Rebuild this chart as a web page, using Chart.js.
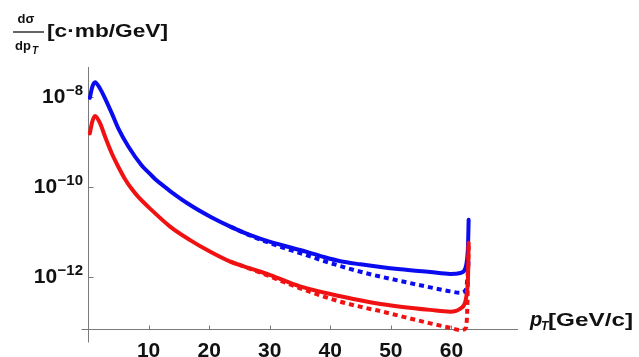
<!DOCTYPE html>
<html>
<head>
<meta charset="utf-8">
<script src="https://cdn.jsdelivr.net/npm/chart.js@4/dist/chart.umd.min.js"></script>
<style>
  html, body { margin: 0; padding: 0; background: #ffffff; }
  #wrap { width: 639px; height: 357px; position: relative; }
</style>
</head>
<body>
<div id="wrap"><canvas id="c" width="639" height="357"></canvas></div>
<script>
// ---- data (pT in GeV/c, dσ/dpT in c·mb/GeV) ----
const blueSolidX = [0.3, 0.7, 1.16, 1.98, 2.81, 3.92, 5.0, 6.66, 8.87, 10.25, 11.07, 12.7, 13.55, 16.86, 20.2, 23.5, 26.8, 30.1, 35.0, 38.3, 41.7, 45.0, 48.3, 51.6, 56.5, 59.8, 61.5, 62.3, 62.6, 62.75, 62.85];
const blueSolidY = [9.55e-9, 1.66e-8, 2.14e-8, 1.55e-8, 9.33e-9, 4.37e-9, 2.00e-9, 7.94e-10, 3.02e-10, 1.95e-10, 1.51e-10, 1.00e-10, 8.13e-11, 3.98e-11, 2.19e-11, 1.32e-11, 8.51e-12, 6.03e-12, 3.98e-12, 2.95e-12, 2.24e-12, 1.91e-12, 1.66e-12, 1.48e-12, 1.29e-12, 1.17e-12, 1.23e-12, 1.55e-12, 2.51e-12, 5.01e-12, 1.86e-11];

const blueDashX = [23.5, 26.8, 30.1, 35.0, 41.7, 46.6, 48.3, 51.6, 56.5, 59.8, 61.5, 62.3, 62.6, 62.85];
const blueDashY = [1.32e-11, 8.32e-12, 5.62e-12, 3.39e-12, 1.74e-12, 1.15e-12, 1.02e-12, 8.13e-13, 5.89e-13, 4.79e-13, 4.47e-13, 5.01e-13, 7.94e-13, 2.51e-12];

const redSolidX = [0.3, 0.7, 1.16, 1.98, 2.81, 3.92, 5.0, 6.1, 7.2, 8.3, 10.25, 13.55, 16.86, 20.2, 23.5, 26.8, 30.1, 35.0, 41.7, 46.6, 48.3, 51.6, 56.5, 59.8, 61.5, 62.3, 62.6, 62.75, 62.85];
const redSolidY = [1.55e-9, 2.82e-9, 3.80e-9, 2.63e-9, 1.32e-9, 5.62e-10, 2.82e-10, 1.51e-10, 9.12e-11, 6.03e-11, 3.31e-11, 1.32e-11, 6.61e-12, 3.63e-12, 2.19e-12, 1.55e-12, 1.10e-12, 6.17e-13, 3.72e-13, 2.75e-13, 2.51e-13, 2.19e-13, 1.86e-13, 1.70e-13, 2.00e-13, 2.82e-13, 5.01e-13, 1.00e-12, 5.75e-12];

const redDashX = [23.5, 26.8, 30.1, 35.0, 41.7, 46.6, 48.3, 51.6, 56.5, 59.8, 61.5, 62.3, 62.6, 62.85];
const redDashY = [2.19e-12, 1.51e-12, 1.02e-12, 5.62e-13, 2.82e-13, 1.95e-13, 1.74e-13, 1.35e-13, 9.33e-14, 7.41e-14, 6.61e-14, 7.08e-14, 1.58e-13, 5.01e-12];

// ---- axes / ticks ----
const xMin = 0, xMax = 71;
const yMin = 6.99e-14, yMax = 4.64e-8;
const xTickValues = [10, 20, 30, 40, 50, 60];
const xTickLabels = ['10', '20', '30', '40', '50', '60'];
const yTickValues = [1e-8, 1e-10, 1e-12];
const yTickBase = ['10', '10', '10'];
const yTickExp = ['\u22128', '\u221210', '\u221212'];

const FONT = '"Liberation Sans", Arial, sans-serif';
const BLUE = '#0b0bf0';
const RED = '#f01212';
const AXIS = '#7a7a7a';

function pts(xs, ys) { return xs.map((v, i) => ({ x: v, y: ys[i] })); }

function fitText(ctx, text, x, y, targetW) {
  const w = ctx.measureText(text).width;
  const s = targetW / w;
  ctx.save();
  ctx.translate(x, y);
  ctx.scale(s, 1);
  ctx.textAlign = 'left';
  ctx.fillText(text, 0, 0);
  ctx.restore();
}

const mmaAxes = {
  id: 'mmaAxes',
  beforeDatasetsDraw(chart) {
    const { ctx, chartArea, scales } = chart;
    const xs = scales.x, ys = scales.y;
    const x0 = Math.round(xs.getPixelForValue(0)) + 0.5;
    const yb = Math.round(chartArea.bottom) + 0.5;
    ctx.save();
    ctx.strokeStyle = AXIS;
    ctx.lineWidth = 1;
    ctx.beginPath();
    ctx.moveTo(x0, chartArea.top);
    ctx.lineTo(x0, yb + 13);
    ctx.moveTo(x0 - 7, yb);
    ctx.lineTo(chartArea.right, yb);
    xTickValues.forEach(v => {
      const px = Math.round(xs.getPixelForValue(v)) + 0.5;
      ctx.moveTo(px, yb);
      ctx.lineTo(px, yb - 4);
    });
    yTickValues.forEach(v => {
      const py = Math.round(ys.getPixelForValue(v)) + 0.5;
      ctx.moveTo(x0, py);
      ctx.lineTo(x0 + 5, py);
    });
    ctx.stroke();
    ctx.restore();
  },
  afterDraw(chart) {
    const { ctx, chartArea, scales } = chart;
    const xs = scales.x, ys = scales.y;
    ctx.save();
    ctx.fillStyle = '#111111';
    ctx.textBaseline = 'alphabetic';

    // y tick labels: 10 with superscript exponent
    yTickValues.forEach((v, i) => {
      const py = ys.getPixelForValue(v);
      const right = 83;
      ctx.font = 'bold 15px ' + FONT;
      const ew = ctx.measureText(yTickExp[i]).width;
      ctx.textAlign = 'left';
      ctx.fillText(yTickExp[i], right - ew, py - 2);
      ctx.font = 'bold 21px ' + FONT;
      ctx.textAlign = 'right';
      ctx.fillText(yTickBase[i], right - ew - 0.5, py + 6);
    });

    // x tick labels
    ctx.font = 'bold 21px ' + FONT;
    ctx.textAlign = 'center';
    xTickValues.forEach((v, i) => {
      const px = xs.getPixelForValue(v);
      ctx.fillText(xTickLabels[i], px, chartArea.bottom + 28);
    });

    // y-axis title: dσ/dp_T [c·mb/GeV]
    ctx.font = 'bold 13px ' + FONT;
    ctx.textAlign = 'center';
    ctx.fillText('d\u03c3', 26, 23);
    ctx.strokeStyle = '#111111';
    ctx.lineWidth = 1.3;
    ctx.beginPath();
    ctx.moveTo(13, 32);
    ctx.lineTo(44, 32);
    ctx.stroke();
    ctx.textAlign = 'left';
    ctx.fillText('dp', 15, 50);
    ctx.font = 'italic bold 10px ' + FONT;
    ctx.fillText('T', 32, 54);
    ctx.font = 'bold 19px ' + FONT;
    fitText(ctx, '[c\u00b7mb/GeV]', 47, 37, 121);

    // x-axis title: p_T[GeV/c]
    ctx.font = 'italic bold 20px ' + FONT;
    ctx.textAlign = 'left';
    ctx.fillText('p', 530, 326);
    ctx.font = 'italic bold 12px ' + FONT;
    ctx.fillText('T', 541, 330);
    ctx.font = 'bold 19px ' + FONT;
    fitText(ctx, '[GeV/c]', 548, 326, 85);
    ctx.restore();
  }
};

const common = { pointRadius: 0, pointHoverRadius: 0, fill: false, cubicInterpolationMode: 'monotone', borderJoinStyle: 'round', clip: 6 };

new Chart(document.getElementById('c'), {
  type: 'line',
  data: {
    datasets: [
      Object.assign({ label: 'red dashed', data: pts(redDashX, redDashY), borderColor: RED, borderWidth: 4, borderDash: [5, 4], borderCapStyle: 'butt', order: 0 }, common),
      Object.assign({ label: 'red', data: pts(redSolidX, redSolidY), borderColor: RED, borderWidth: 4, borderCapStyle: 'round', order: 1 }, common),
      Object.assign({ label: 'blue dashed', data: pts(blueDashX, blueDashY), borderColor: BLUE, borderWidth: 4, borderDash: [5, 4], borderCapStyle: 'butt', order: 2 }, common),
      Object.assign({ label: 'blue', data: pts(blueSolidX, blueSolidY), borderColor: BLUE, borderWidth: 4, borderCapStyle: 'round', order: 3 }, common)
    ]
  },
  options: {
    responsive: false,
    animation: false,
    events: [],
    layout: { padding: { left: 88, right: 121, top: 67, bottom: 28 } },
    plugins: { legend: { display: false }, tooltip: { enabled: false } },
    scales: {
      x: { type: 'linear', min: xMin, max: xMax, display: false },
      y: { type: 'logarithmic', min: yMin, max: yMax, display: false }
    }
  },
  plugins: [mmaAxes]
});
</script>
</body>
</html>
